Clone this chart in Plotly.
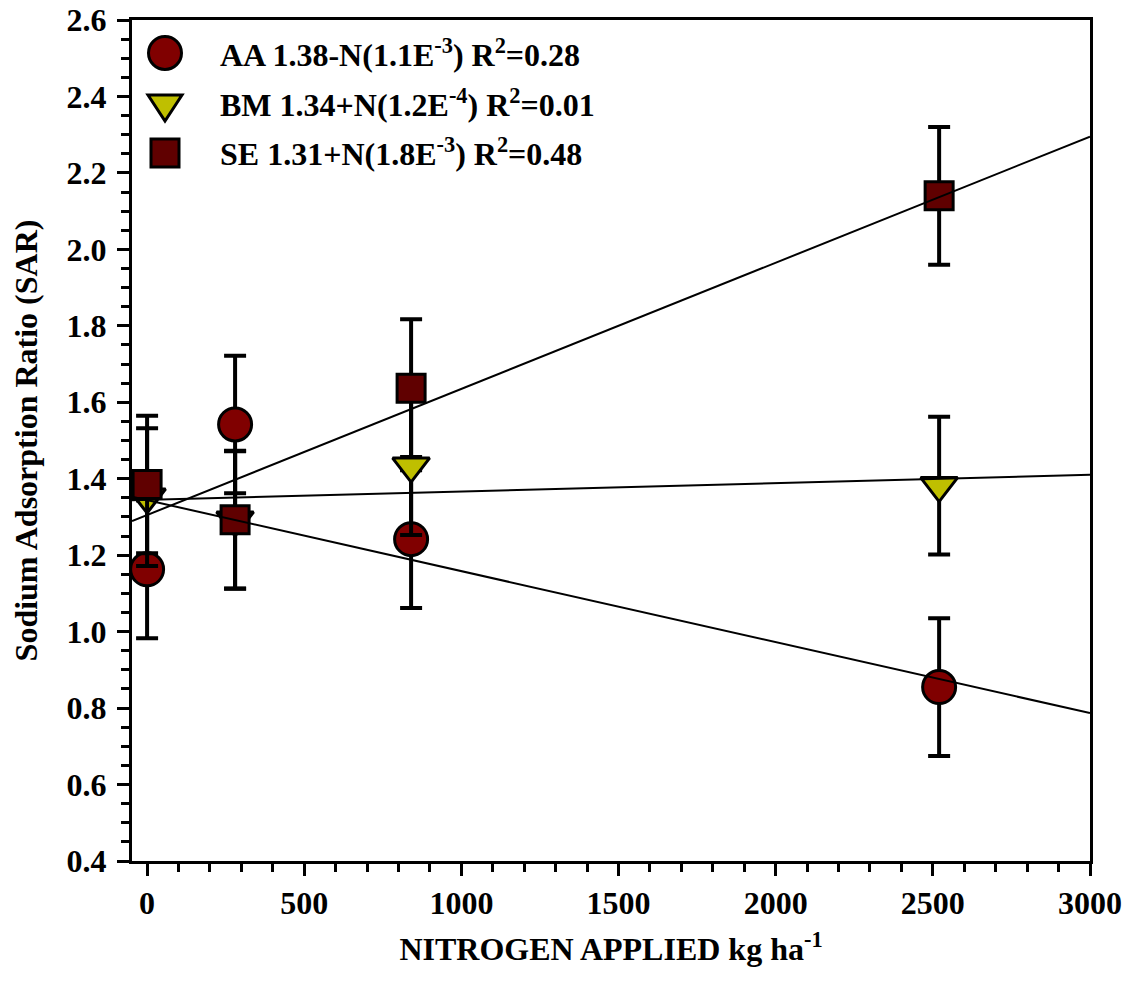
import plotly.graph_objects as go
import numpy as np

# ---- data ----
nitrogen = [0, 280, 840, 2520]
aa_sar = [1.163, 1.542, 1.242, 0.855]
aa_err = [0.18, 0.18, 0.18, 0.18]
bm_sar = [1.352, 1.292, 1.433, 1.382]
bm_err = [0.18, 0.18, 0.18, 0.18]
se_sar = [1.385, 1.293, 1.637, 2.140]
se_err = [0.18, 0.18, 0.18, 0.18]

# regression lines (intercept, slope) as drawn
fit_names = ["AA", "BM", "SE"]
fit_intercepts = [1.344, 1.345, 1.305]
fit_slopes = [-1.857e-4, 2.17e-5, 3.30e-4]
fit_x = [-48, 3000]

legend_labels = [
    "AA 1.38-N(1.1E<sup>-3</sup>) R<sup>2</sup>=0.28",
    "BM 1.34+N(1.2E<sup>-4</sup>) R<sup>2</sup>=0.01",
    "SE 1.31+N(1.8E<sup>-3</sup>) R<sup>2</sup>=0.48",
]

x_ticks = [0, 500, 1000, 1500, 2000, 2500, 3000]
y_ticks = [0.4, 0.6, 0.8, 1.0, 1.2, 1.4, 1.6, 1.8, 2.0, 2.2, 2.4, 2.6]

AA_COLOR = "#800000"
BM_COLOR = "#bfbf00"
SE_COLOR = "#600000"
FONT = "Liberation Serif"
FS = 32

fig = go.Figure()

def add_series(y, err, symbol, size, color):
    fig.add_trace(go.Scatter(
        x=nitrogen, y=y, mode="markers",
        marker=dict(symbol=symbol, size=size, color=color,
                    line=dict(color="black", width=3)),
        error_y=dict(type="data", array=err, visible=True,
                     color="black", thickness=4, width=11),
        showlegend=False, hoverinfo="skip"))

add_series(aa_sar, aa_err, "circle", 33, AA_COLOR)
add_series(bm_sar, bm_err, "triangle-down", 32, BM_COLOR)
add_series(se_sar, se_err, "square", 28, SE_COLOR)

for b, m in zip(fit_intercepts, fit_slopes):
    xs = np.array(fit_x, dtype=float)
    fig.add_trace(go.Scatter(x=xs, y=b + m * xs, mode="lines",
                             line=dict(color="black", width=2),
                             showlegend=False, hoverinfo="skip"))

# ---- legend (drawn manually so markers keep full size) ----
plot_l, plot_r, plot_t, plot_b = 132, 1090, 20, 861
W = plot_r - plot_l
H = plot_b - plot_t

def px_x(p):
    return (p - plot_l) / W

def px_y(p):
    return (plot_b - p) / H

row_y = [53, 106, 153]
mk_x = 165
shapes = []
shapes.append(dict(type="circle", xref="paper", yref="paper",
                   xsizemode="pixel", ysizemode="pixel",
                   xanchor=px_x(mk_x), yanchor=px_y(row_y[0]),
                   x0=-16.5, x1=16.5, y0=-16.5, y1=16.5,
                   fillcolor=AA_COLOR, line=dict(color="black", width=3)))
shapes.append(dict(type="path", xref="paper", yref="paper",
                   xsizemode="pixel", ysizemode="pixel",
                   xanchor=px_x(mk_x), yanchor=px_y(row_y[1]),
                   path="M-17,11 L17,11 L0,-15 Z",
                   fillcolor=BM_COLOR, line=dict(color="black", width=3)))
shapes.append(dict(type="rect", xref="paper", yref="paper",
                   xsizemode="pixel", ysizemode="pixel",
                   xanchor=px_x(mk_x), yanchor=px_y(row_y[2]),
                   x0=-14, x1=14, y0=-14, y1=14,
                   fillcolor=SE_COLOR, line=dict(color="black", width=3)))

annotations = []
for lab, yy in zip(legend_labels, [53, 103, 152]):
    annotations.append(dict(text=lab, xref="paper", yref="paper",
                            x=px_x(218), y=px_y(yy), xanchor="left",
                            yanchor="middle", showarrow=False,
                            font=dict(family=FONT, size=FS, color="black",
                                      weight="bold")))

axis_common = dict(
    showline=True, linecolor="black", linewidth=3, mirror=True,
    ticks="outside", ticklen=12, tickwidth=3, tickcolor="black",
    showgrid=False, zeroline=False, automargin=False,
    tickfont=dict(family=FONT, size=FS, color="black", weight="bold"),
)

fig.update_layout(
    width=1133, height=991,
    margin=dict(l=plot_l, r=1133 - plot_r, t=plot_t, b=991 - plot_b,
                autoexpand=False),
    paper_bgcolor="white", plot_bgcolor="white",
    shapes=shapes, annotations=annotations,
    xaxis=dict(range=[-48, 3000], tickvals=x_ticks,
               minor=dict(dtick=100, tick0=0, ticks="outside", ticklen=8,
                          tickwidth=3, tickcolor="black"),
               title=dict(text="NITROGEN APPLIED kg ha<sup>-1</sup>",
                          font=dict(family=FONT, size=FS, color="black",
                                    weight="bold"), standoff=18),
               **axis_common),
    yaxis=dict(range=[0.4, 2.6], tickvals=y_ticks, tickformat=".1f",
               ticklabelstandoff=4,
               minor=dict(dtick=0.05, tick0=0.4, ticks="outside", ticklen=8,
                          tickwidth=3, tickcolor="black"),
               title=dict(text="Sodium Adsorption Ratio (SAR)",
                          font=dict(family=FONT, size=FS, color="black",
                                    weight="bold"), standoff=20),
               **axis_common),
)

fig.write_html("out.html")
